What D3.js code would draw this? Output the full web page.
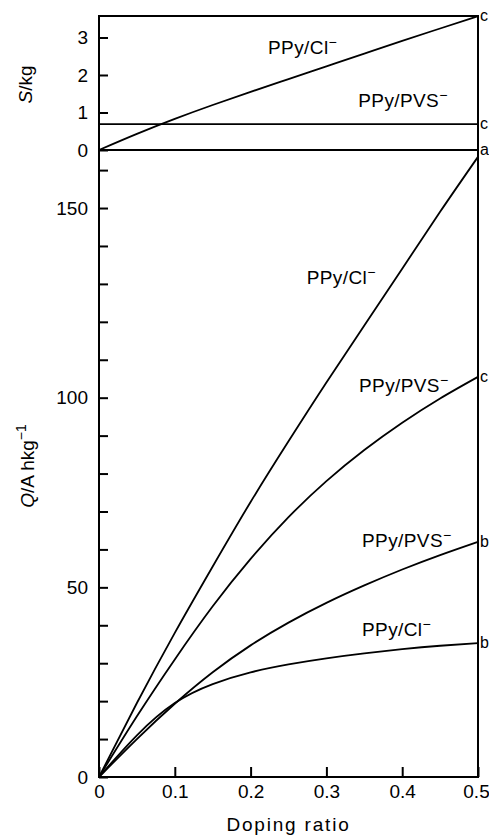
<!DOCTYPE html>
<html>
<head>
<meta charset="utf-8">
<script src="https://cdn.jsdelivr.net/npm/d3@7"></script>
<style>
  body { margin: 0; background: #fff; }
  svg { display: block; font-family: "Liberation Sans", Arial, sans-serif; }
  .axis path, .axis line { stroke: #000; stroke-width: 2; }
  .axis text { font-size: 19px; fill: #000; }
</style>
</head>
<body>
<div id="chart"></div>
<script>
// doping ratio samples
const doping = [0, 0.05, 0.1, 0.15, 0.2, 0.25, 0.3, 0.35, 0.4, 0.45, 0.5];

// S / kg (top panel)
const sClC   = [0, 0.43, 0.83, 1.2, 1.55, 1.89, 2.23, 2.57, 2.91, 3.24, 3.57];
const sPvsC  = [0.69, 0.69, 0.69, 0.69, 0.69, 0.69, 0.69, 0.69, 0.69, 0.69, 0.69];
const sZeroA = [0, 0, 0, 0, 0, 0, 0, 0, 0, 0, 0];

// Q / A h kg^-1 (bottom panel)
const qClA  = [0, 19.5, 38, 55.5, 72.5, 88.5, 104, 119, 134, 149, 163.5];
const qPvsC = [0, 16, 31, 45, 57.5, 68.5, 78, 86.2, 93.4, 99.8, 105.5];
const qPvsB = [0, 10, 19.3, 27.6, 34.7, 40.7, 45.9, 50.5, 54.7, 58.5, 62];
const qClB  = [0, 11, 19.5, 24.5, 27.6, 29.7, 31.3, 32.6, 33.7, 34.6, 35.3];

const xTicks = [0, 0.1, 0.2, 0.3, 0.4, 0.5];
const sTicks = [0, 1, 2, 3];
const qTicks = d3.range(0, 161, 10);

const sSeries = [
    { values: sClC, end: "c" },
    { values: sPvsC, end: "c" },
    { values: sZeroA, end: "a" }
];
const qSeries = [
    { values: qClA, end: "" },
    { values: qPvsC, end: "c" },
    { values: qPvsB, end: "b" },
    { values: qClB, end: "b" }
];

// in-plot labels, anchored in data units
const sLabels = [
    { x: 0.223, y: 2.56, ion: "Cl" },
    { x: 0.342, y: 1.15, ion: "PVS" }
];
const qLabels = [
    { x: 0.274, y: 130, ion: "Cl" },
    { x: 0.343, y: 101.5, ion: "PVS" },
    { x: 0.347, y: 60.6, ion: "PVS" },
    { x: 0.347, y: 37.2, ion: "Cl" }
];

const width = 489, height = 836;
const svg = d3.select("#chart").append("svg")
    .attr("width", width)
    .attr("height", height);

const x = d3.scaleLinear().domain([0, 0.5]).range([99, 478]);
const yS = d3.scaleLinear().domain([0, 3.573]).range([150, 16]);
const yQ = d3.scaleLinear().domain([0, 165.3]).range([777, 150]);

// frame
svg.append("rect")
    .attr("x", x(0)).attr("y", yS(3.573))
    .attr("width", x(0.5) - x(0)).attr("height", yQ(0) - yS(3.573))
    .attr("fill", "none").attr("stroke", "#000").attr("stroke-width", 2);

// axes
const xAxis = svg.append("g")
    .attr("class", "axis")
    .attr("transform", `translate(0,${yQ(0)})`)
    .call(d3.axisBottom(x).tickValues(xTicks).tickSize(-10).tickPadding(8)
        .tickFormat(d => d === 0 ? "0" : d3.format(".1f")(d)));
xAxis.selectAll("text").attr("font-size", 18)
    .attr("dx", d => d === 0.5 ? -2 : 0);

svg.append("g")
    .attr("class", "axis")
    .attr("transform", `translate(${x(0)},0)`)
    .call(d3.axisLeft(yQ).tickValues(qTicks).tickSize(-9).tickPadding(11)
        .tickFormat(d => d % 50 === 0 ? d : ""));

svg.append("g")
    .attr("class", "axis")
    .attr("transform", `translate(${x(0)},0)`)
    .call(d3.axisLeft(yS).tickValues(sTicks).tickSize(-9).tickPadding(11)
        .tickFormat(d3.format("d")));

svg.selectAll(".axis .domain").remove();

// curves
const lineS = d3.line().x((d, i) => x(doping[i])).y(d => yS(d)).curve(d3.curveNatural);
const lineQ = d3.line().x((d, i) => x(doping[i])).y(d => yQ(d)).curve(d3.curveNatural);

svg.append("g").selectAll("path")
    .data(sSeries)
    .join("path")
    .attr("d", d => lineS(d.values))
    .attr("fill", "none").attr("stroke", "#000").attr("stroke-width", 1.8);

svg.append("g").selectAll("path")
    .data(qSeries)
    .join("path")
    .attr("d", d => lineQ(d.values))
    .attr("fill", "none").attr("stroke", "#000").attr("stroke-width", 1.8);

// end letters
const ends = sSeries.map(s => ({ t: s.end, y: yS(s.values[s.values.length - 1]) }))
    .concat(qSeries.map(s => ({ t: s.end, y: yQ(s.values[s.values.length - 1]) })))
    .filter(d => d.t);

svg.append("g").selectAll("text")
    .data(ends)
    .join("text")
    .attr("x", x(0.5) + 2)
    .attr("y", d => d.y)
    .attr("dy", "0.32em")
    .attr("font-size", 16)
    .text(d => d.t);

// PPy/X- labels
function ionLabel(g, d, yScale) {
    const t = g.append("text")
        .attr("x", x(d.x))
        .attr("y", yScale(d.y))
        .attr("font-size", 19)
        .attr("letter-spacing", 0.4);
    t.append("tspan").text("PPy/" + d.ion);
    t.append("tspan").attr("dy", "-0.5em").attr("font-size", 14).text("\u2212");
}
const lab = svg.append("g");
sLabels.forEach(d => ionLabel(lab, d, yS));
qLabels.forEach(d => ionLabel(lab, d, yQ));

// axis titles
const sTitle = svg.append("text")
    .attr("transform", `translate(32,${yS(1.75)}) rotate(-90)`)
    .attr("text-anchor", "middle")
    .attr("font-size", 19);
sTitle.append("tspan").attr("font-style", "italic").text("S");
sTitle.append("tspan").text("/kg");

const qTitle = svg.append("text")
    .attr("transform", `translate(34,${yQ(82)}) rotate(-90)`)
    .attr("text-anchor", "middle")
    .attr("font-size", 19);
qTitle.append("tspan").attr("font-style", "italic").text("Q");
qTitle.append("tspan").text("/A hkg");
qTitle.append("tspan").attr("dy", "-0.55em").attr("font-size", 14).text("\u22121");

svg.append("text")
    .attr("x", (x(0) + x(0.5)) / 2)
    .attr("y", 831)
    .attr("text-anchor", "middle")
    .attr("font-size", 19)
    .attr("letter-spacing", 1.8)
    .text("Doping ratio");
</script>
</body>
</html>
